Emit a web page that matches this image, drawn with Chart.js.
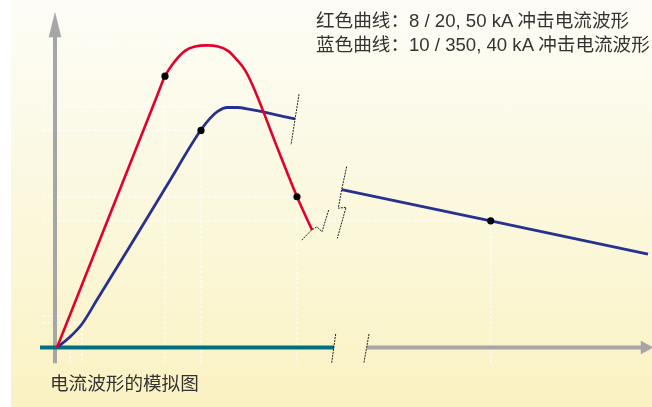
<!DOCTYPE html>
<html>
<head>
<meta charset="utf-8">
<script src="https://cdn.jsdelivr.net/npm/chart.js@4"></script>
<style>
  html, body { margin: 0; padding: 0; background: #fff; }
  #wrap { position: relative; width: 652px; height: 407px; overflow: hidden; }
  #chart {
    position: absolute; left: 0; top: 0;
    background: #fff linear-gradient(to bottom, #fdfdf7 0%, #fbf8de 50%, #faf2c2 100%) no-repeat 11px 0 / 641px 100%;
  }
  .lbl {
    position: absolute; color: #333; font-size: 18.6px; line-height: 24px; white-space: nowrap;
    font-family: "Liberation Sans", "Noto Sans CJK SC", sans-serif;
  }
</style>
</head>
<body>
<div id="wrap">
  <canvas id="chart" width="652" height="407"></canvas>
  <div class="lbl" style="left:316px; top:9px;">红色曲线：8 / 20, 50 kA 冲击电流波形</div>
  <div class="lbl" style="left:316px; top:33px;">蓝色曲线：10 / 350, 40 kA 冲击电流波形</div>
  <div class="lbl" style="left:50px; top:372px;">电流波形的模拟图</div>
</div>
<script>
// time (schematic units) and current (kA)
var redT  = [0, 54, 100, 108, 118, 128, 138, 150, 161, 171, 180, 188, 195, 205, 218, 240, 255];
var redKA = [0, 22.5, 41.7, 45, 47.5, 49.2, 49.9, 50.1, 49.9, 49.2, 47.7, 46.0, 43.7, 39.7, 34.1, 25, 19.5];

var blueT  = [0, 12, 25, 40, 70, 110, 144, 153, 161, 170, 180, 193, 205, 238];
var blueKA = [0, 1.6, 3.9, 7.9, 16.0, 26.9, 36.1, 38.0, 39.2, 39.8, 39.8, 39.5, 39.1, 37.9];

// blue tail after the time break
var tailT  = [284.7, 433.7, 591];
var tailKA = [26.2, 21.0, 15.5];

// marked points (90% / 50%)
var redMarkT = [108, 240], redMarkKA = [45, 25];
var blueMarkT = [144, 433.7], blueMarkKA = [36, 21];

// helper reference lines: level, end time
var refKA  = [50, 45, 40, 36, 25, 21, 5.2, 4.1];
var refEnd = [150, 108, 170, 144, 240, 433.7, 13, 25];
var dropT  = [108, 144, 240, 433.7, 13, 25];
var dropKA = [45, 36, 25, 21, 5.2, 4.1];
var gridLeft = -14, gridBottom = -2.6;

// axes
var yAxisT = -2, yAxisTop = 51.5, yArrowTip = 55.5;
var xAxisStart = 310, xAxisEnd = 584, xArrowTip = 596;
var baseStart = -17, baseEnd = 277;

// break marks
var breaks = [
  [[278.7, 2.24], [274.7, -2.52]],
  [[312, 2.24], [307, -2.49]],
  [[242, 42.0], [234, 33.6]],
  [[244.7, 17.8], [254.7, 19.5], [260, 20.0], [265, 19.2], [271.7, 22.8]],
  [[289.7, 30.0], [284.7, 26.2], [281.3, 23.1], [289, 23.25], [280.3, 18.1]]
];

function pts(xs, ys) { return xs.map(function(x, i) { return {x: x, y: ys[i]}; }); }

function seg(data, color, width, order, extra) {
  var d = { type: 'scatter', data: data, showLine: true, borderColor: color, backgroundColor: color,
    borderWidth: width, pointRadius: 0, order: order, fill: false };
  for (var k in extra) d[k] = extra[k];
  return d;
}

var datasets = [];

// white dashed helper lines
for (var i = 0; i < refKA.length; i++) {
  datasets.push(seg([{x: gridLeft, y: refKA[i]}, {x: refEnd[i], y: refKA[i]}], '#ffffff', 1, 10, {borderDash: [3, 2]}));
}
for (var j = 0; j < dropT.length; j++) {
  datasets.push(seg([{x: dropT[j], y: dropKA[j]}, {x: dropT[j], y: gridBottom}], '#ffffff', 1, 10, {borderDash: [3, 2]}));
}

// grey axes with arrows
datasets.push(seg([{x: yAxisT, y: gridBottom}, {x: yAxisT, y: yAxisTop}], '#a6a6a6', 4, 8));
datasets.push(seg([{x: yAxisT - 6, y: yAxisTop}, {x: yAxisT, y: yArrowTip}, {x: yAxisT + 6, y: yAxisTop}, {x: yAxisT - 6, y: yAxisTop}],
  '#a6a6a6', 0.5, 8, {fill: 'shape'}));
datasets.push(seg([{x: xAxisStart, y: 0}, {x: xAxisEnd, y: 0}], '#a6a6a6', 4, 8));
datasets.push(seg([{x: xAxisEnd, y: 1.08}, {x: xArrowTip, y: 0}, {x: xAxisEnd, y: -1.08}, {x: xAxisEnd, y: 1.08}],
  '#a6a6a6', 0.5, 8, {fill: 'shape'}));

// teal base line
datasets.push(seg([{x: baseStart, y: 0}, {x: baseEnd, y: 0}], '#00707f', 4, 7));

// waveforms
datasets.push(seg(pts(redT, redKA), '#e4002b', 2.6, 5, {cubicInterpolationMode: 'monotone'}));
datasets.push(seg(pts(blueT, blueKA), '#28318f', 2.8, 5, {cubicInterpolationMode: 'monotone'}));
datasets.push(seg(pts(tailT, tailKA), '#28318f', 2.8, 5));

// break marks
breaks.forEach(function(b) {
  datasets.push(seg(b.map(function(p) { return {x: p[0], y: p[1]}; }), '#222222', 1, 4, {borderDash: [2, 1]}));
});

// marker dots
datasets.push({ type: 'scatter', data: pts(redMarkT, redMarkKA).concat(pts(blueMarkT, blueMarkKA)),
  pointRadius: 3.6, pointBackgroundColor: '#000', pointBorderWidth: 0, order: 1 });

new Chart(document.getElementById('chart'), {
  type: 'scatter',
  data: { datasets: datasets },
  options: {
    responsive: false,
    devicePixelRatio: 1,
    animation: false,
    layout: { padding: 0, autoPadding: false },
    scales: {
      x: { type: 'linear', min: -57, max: 595, display: false },
      y: { type: 'linear', min: -9.87, max: 57.63, display: false }
    },
    plugins: { legend: { display: false }, tooltip: { enabled: false } },
    events: []
  }
});
</script>
</body>
</html>
